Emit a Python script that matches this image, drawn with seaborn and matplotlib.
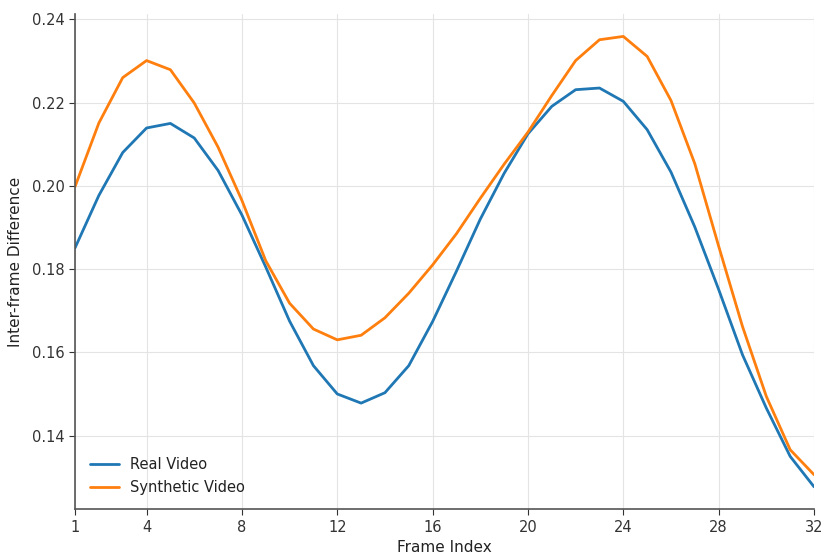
import matplotlib
matplotlib.use("Agg")
import matplotlib.pyplot as plt
import seaborn as sns
import pandas as pd

frames = list(range(1, 33))
real_video = [0.1851, 0.1977, 0.2080, 0.2139, 0.2150, 0.2115, 0.2037, 0.1930,
              0.1805, 0.1675, 0.1568, 0.1500, 0.1478, 0.1503, 0.1568, 0.1674,
              0.1795, 0.1920, 0.2030, 0.2125, 0.2191, 0.2231, 0.2235, 0.2203,
              0.2135, 0.2033, 0.1901, 0.1751, 0.1594, 0.1466, 0.1350, 0.1277]
synthetic_video = [0.1998, 0.2151, 0.2260, 0.2301, 0.2279, 0.2199, 0.2093, 0.1965,
                   0.1820, 0.1718, 0.1656, 0.1630, 0.1641, 0.1683, 0.1742, 0.1810,
                   0.1885, 0.1970, 0.2052, 0.2129, 0.2217, 0.2301, 0.2351, 0.2359,
                   0.2311, 0.2205, 0.2053, 0.1855, 0.1662, 0.1494, 0.1366, 0.1306]
series_names = ["Real Video", "Synthetic Video"]
x_ticks = [1, 4, 8, 12, 16, 20, 24, 28, 32]
y_ticks = [0.14, 0.16, 0.18, 0.20, 0.22, 0.24]

df = pd.DataFrame({
    "Frame Index": frames * 2,
    "Inter-frame Difference": real_video + synthetic_video,
    "Series": [series_names[0]] * len(frames) + [series_names[1]] * len(frames),
})

sns.set_style("ticks")
plt.rcParams["font.family"] = ["DejaVu Sans"]

fig, ax = plt.subplots(figsize=(8.21, 5.56), dpi=100)
fig.subplots_adjust(left=0.0914, right=0.9915, top=0.975, bottom=0.084)

sns.lineplot(data=df, x="Frame Index", y="Inter-frame Difference", hue="Series",
             palette=["#1f77b4", "#ff7f0e"], linewidth=2.0, ax=ax)

ax.set_xlim(1, 32)
ax.set_xticks(x_ticks)
ax.set_yticks(y_ticks)
ax.set_yticklabels([f"{v:.2f}" for v in y_ticks])
ax.grid(True, color="#e4e4e4", linewidth=0.8)
ax.set_axisbelow(True)
sns.despine(ax=ax)
for s in ["left", "bottom"]:
    ax.spines[s].set_color("#555555")
    ax.spines[s].set_linewidth(1.2)
ax.tick_params(axis="both", labelsize=10.5, colors="#333333", length=4)
ax.set_xlabel("Frame Index", fontsize=11, color="#222222", labelpad=4)
ax.set_ylabel("Inter-frame Difference", fontsize=11, color="#222222", labelpad=6)
leg = ax.legend(loc="lower left", frameon=False, fontsize=10.5, title=None,
                borderaxespad=0.6, handlelength=2.0)
for t in leg.get_texts():
    t.set_color("#222222")

fig.savefig("out.png", dpi=100)
